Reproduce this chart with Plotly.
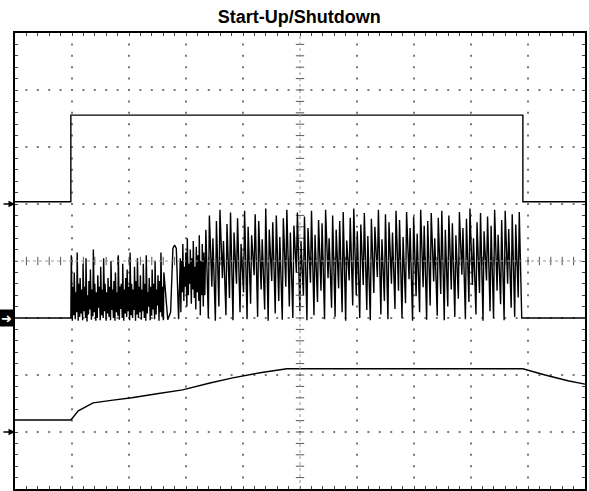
import numpy as np
import plotly.graph_objects as go

# ---------------- data (time in divisions, level in divisions) ----------------
ch1_t = [0.0, 0.98, 0.98, 8.91, 8.91, 10.0]
ch1_v = [5.04, 5.04, 6.56, 6.56, 5.04, 5.04]

ch3_t = [0.0, 0.98, 1.11, 1.37, 1.72, 2.05, 2.49, 2.94, 3.42, 3.82, 4.30, 4.77, 5.17, 8.91, 9.30, 9.70, 10.0]
ch3_v = [1.21, 1.21, 1.37, 1.51, 1.56, 1.60, 1.67, 1.74, 1.86, 1.95, 2.04, 2.11, 2.11, 2.11, 2.00, 1.90, 1.84]

# switching node: pre-start, dense soft-start, transition, full switching
ch2_pre_t = [0.0, 0.98]
ch2_pre_v = [3.0, 3.0]

seg_a = (0.98, 2.63)
a_peaks = [4.10, 3.55, 3.80, 3.45, 4.15, 3.60, 3.70, 3.50, 3.95, 3.55, 4.05, 3.40, 3.65, 3.85, 3.50, 4.20,
           3.60, 3.45, 3.75, 3.55, 3.90, 3.50, 4.05, 3.60, 3.45, 3.70, 3.55, 4.00, 3.50, 3.65, 3.80, 3.45,
           4.10, 3.55, 3.60, 3.95, 3.50, 3.70, 3.85, 3.55, 4.15, 3.60, 3.50, 3.90, 3.65, 4.05, 3.55, 3.75,
           3.50, 3.95, 3.60, 4.10, 3.45, 3.70, 3.55, 3.85, 3.60, 4.00, 3.50, 3.75, 3.65, 4.15, 3.55, 3.80]
a_troughs = [3.00, 2.95, 3.05, 2.98, 3.10, 2.95, 3.02, 3.08, 2.96, 3.12, 3.00, 2.94, 3.06, 3.15, 2.97, 3.03,
             3.10, 2.95, 3.00, 3.18, 2.96, 3.05, 3.00, 3.12, 2.95, 3.08, 3.02, 2.96, 3.14, 3.00, 2.95, 3.10,
             3.04, 2.97, 3.16, 3.00, 2.95, 3.08, 3.02, 3.12, 2.96, 3.05, 3.00, 3.14, 2.95, 3.06, 3.00, 3.10,
             2.97, 3.12, 3.00, 2.95, 3.08, 3.20, 2.96, 3.04, 3.15, 2.98, 3.06, 3.22, 2.95, 3.10, 3.02, 2.96]

ch2_b_t = [2.63, 2.68, 2.73, 2.77, 2.80, 2.83, 2.87, 2.90]
ch2_b_v = [3.60, 2.97, 3.10, 4.22, 4.28, 4.22, 2.98, 4.05]

seg_c = (2.91, 3.33)
c_peaks = [4.00, 4.30, 3.90, 4.15, 4.40, 3.95, 4.20, 4.05, 4.35, 3.90, 4.25, 4.10, 4.45, 4.00, 4.30, 4.15]
c_troughs = [3.10, 3.45, 3.30, 3.55, 3.20, 3.40, 3.60, 3.25, 3.50, 3.35, 3.15, 3.45, 3.30, 3.05, 3.40, 3.20]

seg_d = (3.33, 8.89)
d_peaks = [4.55, 4.80, 4.40, 4.70, 4.90, 4.35, 4.65, 4.85, 4.50, 4.75,
           4.30, 4.88, 4.60, 4.45, 4.82, 4.70, 4.38, 4.92, 4.55, 4.68,
           4.80, 4.42, 4.75, 4.90, 4.50, 4.62, 4.85, 4.35, 4.78, 4.58,
           4.88, 4.46, 4.72, 4.66, 4.90, 4.40, 4.80, 4.55, 4.70, 4.86,
           4.36, 4.76, 4.92, 4.52, 4.64, 4.84, 4.44, 4.74, 4.60, 4.90,
           4.38, 4.82, 4.68, 4.50, 4.88, 4.72, 4.42, 4.86, 4.58, 4.78,
           4.48, 4.90, 4.62, 4.70, 4.84, 4.40, 4.76, 4.88, 4.55, 4.80,
           4.66, 4.45, 4.86, 4.58, 4.74, 4.92, 4.40, 4.68, 4.84, 4.52,
           4.78, 4.62, 4.90, 4.46, 4.72, 4.88, 4.56, 4.82, 4.64, 4.86]
d_troughs = [3.40, 3.00, 3.55, 2.95, 3.20, 3.70, 3.05, 3.35, 2.96, 3.60,
             3.10, 3.45, 2.98, 3.25, 3.75, 3.02, 3.50, 3.15, 2.95, 3.65,
             3.08, 3.30, 2.97, 3.55, 3.20, 3.00, 3.80, 3.12, 3.40, 2.96,
             3.62, 3.05, 3.28, 3.48, 2.98, 3.70, 3.18, 3.02, 3.52, 3.10,
             2.95, 3.66, 3.22, 3.40, 3.00, 3.58, 3.14, 2.96, 3.44, 3.72,
             3.06, 3.30, 2.98, 3.60, 3.16, 3.48, 3.00, 3.26, 3.68, 2.95,
             3.38, 3.10, 3.54, 2.97, 3.22, 3.64, 3.04, 3.42, 2.96, 3.20,
             3.50, 3.02, 3.34, 3.76, 2.98, 3.28, 3.58, 3.06, 3.44, 2.95,
             3.66, 3.12, 3.00, 3.48, 3.24, 2.96, 3.60, 3.18, 3.02, 3.36]

ch2_post_t = [8.89, 8.93, 10.0]
ch2_post_v = [3.0, 3.0, 3.0]

ch_markers = [5.0, 3.0, 1.0]
title_text = "Start-Up/Shutdown"


def pulses(seg, peaks, troughs):
    n = len(peaks)
    t0, t1 = seg
    step = (t1 - t0) / n
    ts, vs = [], []
    for i in range(n):
        ts += [t0 + i * step, t0 + i * step + step * 0.3]
        vs += [troughs[i], peaks[i]]
    return ts, vs


at, av = pulses(seg_a, a_peaks, a_troughs)
ct, cv = pulses(seg_c, c_peaks, c_troughs)
dt_, dv = pulses(seg_d, d_peaks, d_troughs)
ch2_t = ch2_pre_t + at + ch2_b_t + ct + dt_ + ch2_post_t
ch2_v = ch2_pre_v + av + ch2_b_v + cv + dv + ch2_post_v

fig = go.Figure()

# graticule dots
gx, gy = [], []
for xm in range(1, 10):
    if xm == 5:
        continue
    for k in range(1, 40):
        gx.append(xm); gy.append(k * 0.2)
for ym in range(1, 8):
    if ym == 4:
        continue
    for k in range(1, 50):
        gx.append(k * 0.2); gy.append(ym)
fig.add_trace(go.Scatter(x=gx, y=gy, mode="markers", hoverinfo="skip",
                         marker=dict(symbol="square", size=2, color="#777", line_width=0)))

# center crosshair
fig.add_shape(type="line", x0=5, x1=5, y0=0, y1=8, line=dict(color="#999", width=1, dash="dot"))
fig.add_shape(type="line", x0=0, x1=10, y0=4, y1=4, line=dict(color="#999", width=1, dash="dot"))
fig.add_trace(go.Scatter(x=[5] * 39, y=[k * 0.2 for k in range(1, 40)], mode="markers", hoverinfo="skip",
                         marker=dict(symbol="line-ew", size=6, line=dict(color="#555", width=1))))
fig.add_trace(go.Scatter(x=[k * 0.2 for k in range(1, 50)], y=[4] * 49, mode="markers", hoverinfo="skip",
                         marker=dict(symbol="line-ns", size=6, line=dict(color="#555", width=1))))

for t, v, w in [(ch1_t, ch1_v, 1.4), (ch2_t, ch2_v, 1.4), (ch3_t, ch3_v, 1.4)]:
    fig.add_trace(go.Scatter(x=t, y=v, mode="lines", line=dict(color="black", width=w), hoverinfo="skip"))

# channel ground markers
fig.add_annotation(x=0, xref="paper", y=ch_markers[0], yref="y", text="", showarrow=True,
                   ax=-13, ay=0, arrowhead=2, arrowsize=1, arrowwidth=1.3, arrowcolor="black")
fig.add_annotation(x=0, xref="paper", y=ch_markers[1], yref="y", text="<b>➜</b>", showarrow=False,
                   xanchor="right", bgcolor="black", font=dict(color="white", size=13, family="DejaVu Sans"),
                   width=15, height=16, borderpad=0)
fig.add_annotation(x=0, xref="paper", y=ch_markers[2], yref="y", text="", showarrow=True,
                   ax=-13, ay=0, arrowhead=2, arrowsize=1, arrowwidth=1.3, arrowcolor="black")

axis_common = dict(showgrid=False, zeroline=False, showline=True, linecolor="black", linewidth=1.5,
                   mirror="ticks", ticks="inside", ticklen=3, tickcolor="#444", tickwidth=1,
                   showticklabels=False, tickmode="linear", tick0=0, dtick=0.2, fixedrange=True)
fig.update_layout(
    width=589, height=491,
    margin=dict(l=15, r=4, t=33, b=2, autoexpand=False),
    paper_bgcolor="white", plot_bgcolor="white",
    showlegend=False,
    title=dict(text="<b>" + title_text + "</b>", x=0.508, xanchor="center", y=0.979, yanchor="top",
               font=dict(family="Liberation Sans, Arial", size=18, color="black")),
    xaxis=dict(range=[0, 10], **axis_common),
    yaxis=dict(range=[0, 8], **axis_common),
)

fig.write_html("out.html", config={"displayModeBar": False},
               post_script="document.body.style.margin='0';document.body.style.padding='0';")
